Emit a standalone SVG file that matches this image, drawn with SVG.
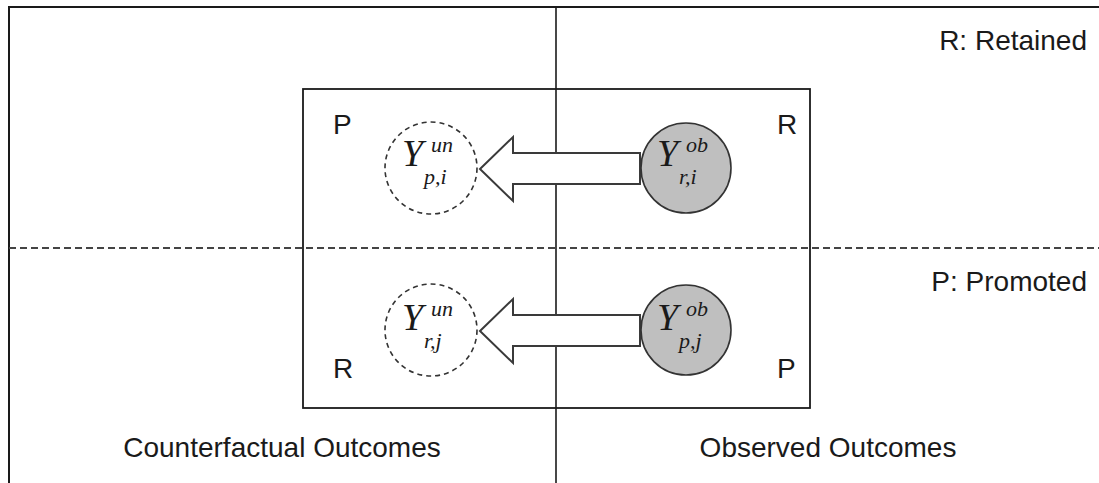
<svg xmlns="http://www.w3.org/2000/svg" width="1099" height="483" viewBox="0 0 1099 483">
<style>
.lbl{font-family:"Liberation Sans",Arial,sans-serif;font-size:28px;fill:#1a1a1a}
.my{font-family:"Liberation Serif","Times New Roman",serif;font-style:italic;fill:#1a1a1a}
.Y{font-size:38px}
.sc{font-size:22px}
.frame{stroke:#1a1a1a;stroke-width:2;fill:none}
.un{fill:#fff;stroke:#333;stroke-width:1.6;stroke-dasharray:5 4}
.ob{fill:#bfbfbf;stroke:#333;stroke-width:1.6}
.arr{fill:#fff;stroke:#3a3a3a;stroke-width:2;stroke-linejoin:miter}
</style>
<rect width="1099" height="483" fill="#fff"/>
<g id="frame">
<line class="frame" x1="9" y1="7" x2="9" y2="483"/>
<line class="frame" x1="8" y1="7" x2="1099" y2="7"/>
<line x1="9" y1="248" x2="1099" y2="248" stroke="#444" stroke-width="2" stroke-dasharray="7 4"/>
<line x1="556" y1="7" x2="556" y2="483" stroke="#1a1a1a" stroke-width="1.6"/>
<rect x="303" y="89" width="507" height="319" fill="none" stroke="#1a1a1a" stroke-width="1.8"/>
</g>
<g id="labels">
<text class="lbl" x="1087" y="50" text-anchor="end">R: Retained</text>
<text class="lbl" x="1087" y="291" text-anchor="end">P: Promoted</text>
<text class="lbl" x="282" y="457" text-anchor="middle">Counterfactual Outcomes</text>
<text class="lbl" x="828" y="457" text-anchor="middle">Observed Outcomes</text>
<text class="lbl" x="333" y="134">P</text>
<text class="lbl" x="777" y="134">R</text>
<text class="lbl" x="333" y="378">R</text>
<text class="lbl" x="777" y="378">P</text>
</g>
<g id="connectors">
<polygon class="arr" points="480,169 513,137 513,153 640,153 640,184 513,184 513,201"/>
<polygon class="arr" points="480,331 513,299 513,315 640,315 640,346 513,346 513,363"/>
</g>
<g id="node-Yun-pi">
<circle class="un" cx="431" cy="168" r="46"/>
<text class="my Y" x="402" y="166">Y</text>
<text class="my sc" x="431" y="152">un</text>
<text class="my sc" x="424" y="184">p,i</text>
</g>
<g id="node-Yob-ri">
<circle class="ob" cx="686" cy="168" r="45"/>
<text class="my Y" x="657" y="166">Y</text>
<text class="my sc" x="686" y="152">ob</text>
<text class="my sc" x="679" y="184">r,i</text>
</g>
<g id="node-Yun-rj">
<circle class="un" cx="431" cy="330" r="46"/>
<text class="my Y" x="402" y="330">Y</text>
<text class="my sc" x="431" y="316">un</text>
<text class="my sc" x="424" y="348">r,j</text>
</g>
<g id="node-Yob-pj">
<circle class="ob" cx="686" cy="330" r="45"/>
<text class="my Y" x="657" y="330">Y</text>
<text class="my sc" x="686" y="316">ob</text>
<text class="my sc" x="679" y="348">p,j</text>
</g>
</svg>
